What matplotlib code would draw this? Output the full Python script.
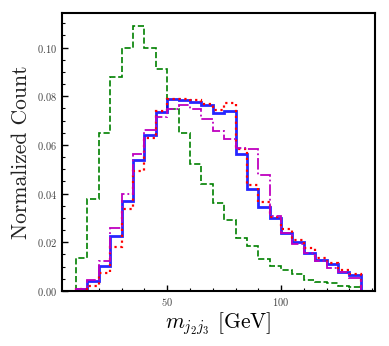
import numpy as np
import matplotlib
matplotlib.use("Agg")
import matplotlib.pyplot as plt
from matplotlib.ticker import MultipleLocator

plt.rcParams['font.family'] = 'serif'
plt.rcParams['font.serif'] = ['cmr10']
plt.rcParams['mathtext.fontset'] = 'cm'
plt.rcParams['axes.formatter.use_mathtext'] = True

# bin edges (GeV)
edges = np.arange(10, 140, 5)
centers = edges[:-1] + 2.5

# normalized counts per bin
green = [0.0134, 0.0377, 0.065, 0.0878, 0.0997, 0.1087, 0.0997, 0.0913, 0.0747, 0.065,
         0.052, 0.044, 0.0362, 0.029, 0.0218, 0.0185, 0.0132, 0.0104, 0.0086, 0.007,
         0.0046, 0.0038, 0.0031, 0.0022, 0.0016]
blue = [0.0008, 0.0041, 0.0104, 0.0224, 0.037, 0.054, 0.064, 0.0737, 0.079, 0.0785,
        0.0775, 0.0763, 0.0732, 0.0738, 0.0564, 0.0417, 0.0347, 0.0298, 0.0238, 0.020,
        0.0158, 0.0127, 0.011, 0.008, 0.0067]
red = [0.0008, 0.0022, 0.0074, 0.0182, 0.0336, 0.0492, 0.0628, 0.0741, 0.0788, 0.0788,
       0.0784, 0.0769, 0.0745, 0.0773, 0.0585, 0.0435, 0.0365, 0.0305, 0.0253, 0.0209,
       0.0175, 0.0134, 0.0113, 0.0086, 0.0068]
magenta = [0.0008, 0.0045, 0.0125, 0.026, 0.040, 0.0564, 0.066, 0.0716, 0.0746, 0.0765,
           0.0747, 0.0705, 0.0657, 0.0623, 0.0586, 0.0582, 0.0475, 0.031, 0.0238, 0.0194,
           0.0154, 0.0122, 0.0093, 0.0077, 0.0053]

fig = plt.figure(figsize=(3.89, 3.46), dpi=100)
ax = fig.add_axes([0.159, 0.159, 0.805, 0.803])

ax.hist(centers, bins=edges, weights=green, histtype='step', color='green', ls='--', lw=1.2)
ax.hist(centers, bins=edges, weights=blue, histtype='step', color='blue', ls='-', lw=2.0, alpha=0.85)
ax.hist(centers, bins=edges, weights=red, histtype='step', color='red', ls=':', lw=1.6)
ax.hist(centers, bins=edges, weights=magenta, histtype='step', color='m', ls='-.', lw=1.3)

ax.set_xlabel(r'$m_{j_2 j_3}$ [GeV]', fontsize=15.5, labelpad=2)
ax.set_ylabel('Normalized Count', fontsize=15.5, labelpad=4, color='#222222')

ax.xaxis.set_major_locator(MultipleLocator(50))
ax.xaxis.set_minor_locator(MultipleLocator(10))
ax.yaxis.set_major_locator(MultipleLocator(0.02))
ax.yaxis.set_minor_locator(MultipleLocator(0.005))
ax.tick_params(which='both', direction='in', labelsize=7.5, labelcolor='#444444')
ax.tick_params(which='major', length=4, width=1)
ax.tick_params(which='minor', length=2, width=0.8)
for s in ax.spines.values():
    s.set_linewidth(1.5)

fig.savefig('out.png', dpi=100)
